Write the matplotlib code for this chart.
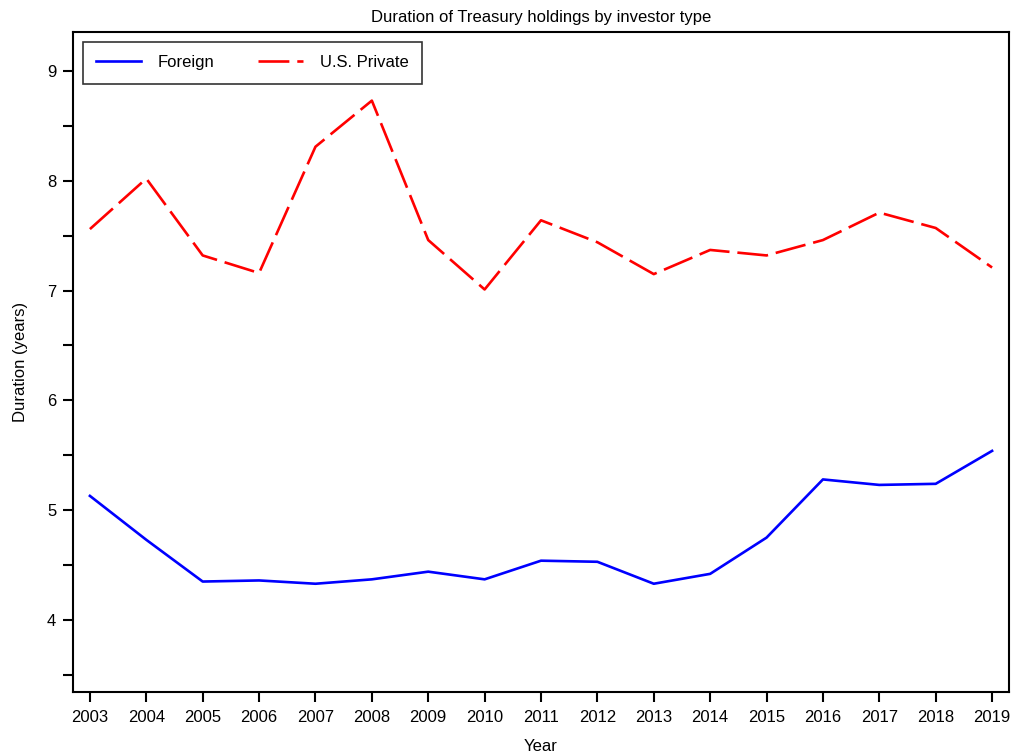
import matplotlib
matplotlib.use("Agg")
import matplotlib.pyplot as plt
from matplotlib.ticker import MultipleLocator

plt.rcParams['font.family'] = ['Liberation Sans', 'DejaVu Sans']

years = list(range(2003, 2020))
foreign = [5.13, 4.73, 4.35, 4.36, 4.33, 4.37, 4.44, 4.37, 4.54, 4.53, 4.33, 4.42, 4.75, 5.28, 5.23, 5.24, 5.54]
us_private = [7.56, 8.02, 7.32, 7.16, 8.31, 8.73, 7.46, 7.01, 7.64, 7.44, 7.15, 7.37, 7.32, 7.46, 7.71, 7.57, 7.21]

fig = plt.figure(figsize=(10.17, 7.55), dpi=100)
ax = fig.add_axes([73/1017, 1-692/755, (1009-73)/1017, (692-32)/755])

ax.plot(years, foreign, color='#0000ff', lw=1.9, label='Foreign')
ax.plot(years, us_private, color='#ff0000', lw=1.9, dashes=(11.7, 3.0), label='U.S. Private')

ax.set_xlim(2002.70, 2019.30)
ax.set_ylim(3.344, 9.355)
ax.set_xticks(years)
ax.set_xticklabels([str(y) for y in years])
ax.yaxis.set_major_locator(MultipleLocator(1))
ax.yaxis.set_minor_locator(MultipleLocator(0.5))

for s in ax.spines.values():
    s.set_linewidth(1.5)
ax.tick_params(axis='both', which='both', direction='out', width=1.5, labelsize=12)
ax.tick_params(axis='x', which='major', length=7, pad=6)
ax.tick_params(axis='y', which='major', length=7, pad=5)
ax.tick_params(axis='y', which='minor', length=7)

ax.set_title('Duration of Treasury holdings by investor type', fontsize=12, pad=7)
ax.set_xlabel('Year', fontsize=12, labelpad=10)
ax.set_ylabel('Duration (years)', fontsize=12, labelpad=14)

leg = ax.legend(loc='upper left', ncol=2, fontsize=12, frameon=True, fancybox=False,
                handlelength=2.7, handletextpad=1.0, columnspacing=2.6, borderpad=0.8,
                borderaxespad=0.0, bbox_to_anchor=(10/936, 1 - 10/660))
leg.get_frame().set_edgecolor('black')
leg.get_frame().set_linewidth(1.2)

fig.savefig('out.png', dpi=100)
